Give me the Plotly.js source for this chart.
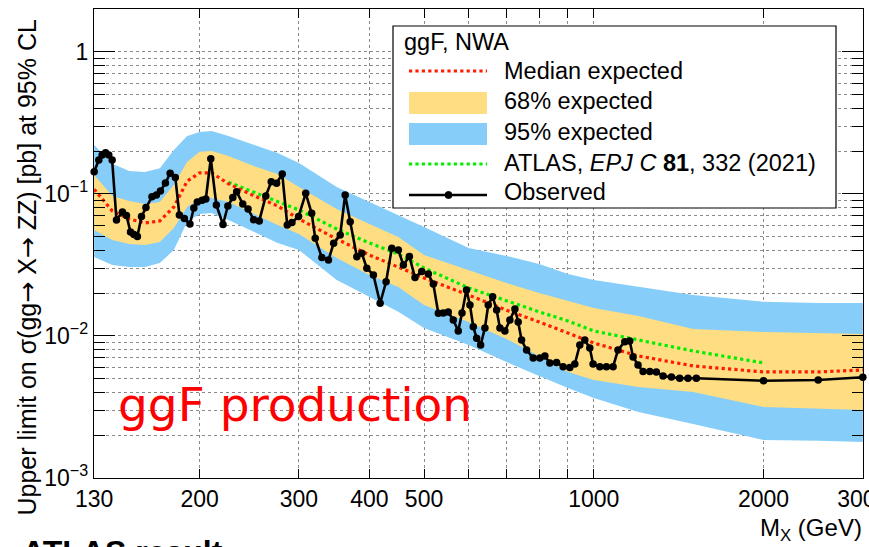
<!DOCTYPE html>
<html>
<head>
<meta charset="utf-8">
<script src="https://cdn.plot.ly/plotly-3.0.1.min.js"></script>
<style>
html,body{margin:0;padding:0;background:#fff;overflow:hidden;}
#chart{width:869px;height:547px;}
</style>
</head>
<body>
<div id="chart"></div>
<script>
// ---------------- data ----------------
const bandMass = [130,140,150,160,170,180,190,200,210,225,250,275,300,350,400,450,500,600,700,800,900,1000,1200,1500,2000,2500,3000];
const expMedian = [0.108,0.0759,0.0667,0.0625,0.0646,0.0810,0.123,0.141,0.141,0.118,0.0968,0.0823,0.0667,0.0482,0.0372,0.0306,0.0256,0.0194,0.0152,0.01255,0.0105,0.00893,0.00723,0.00615,0.00558,0.00558,0.00576];
const exp68Up = [0.136,0.0968,0.0893,0.0850,0.0878,0.116,0.168,0.198,0.201,0.185,0.157,0.138,0.112,0.0784,0.0615,0.0498,0.0372,0.0292,0.0236,0.0201,0.0176,0.01575,0.01383,0.0112,0.01067,0.0105,0.01033];
const exp68Dn = [0.0558,0.0474,0.0445,0.0437,0.0459,0.0576,0.0810,0.0922,0.0937,0.0878,0.0723,0.0605,0.0523,0.0354,0.0269,0.0221,0.0165,0.01255,0.00952,0.00723,0.00558,0.0049,0.00437,0.00403,0.00316,0.00306,0.00301];
const exp95Up = [0.221,0.163,0.145,0.143,0.152,0.204,0.256,0.273,0.278,0.256,0.221,0.194,0.165,0.112,0.0878,0.0711,0.0586,0.0417,0.0366,0.0321,0.0273,0.0248,0.0221,0.0194,0.0174,0.0171,0.0171];
const exp95Dn = [0.0360,0.0316,0.0306,0.0306,0.0327,0.0403,0.0635,0.0723,0.0735,0.0656,0.0540,0.0452,0.0403,0.0248,0.0188,0.0148,0.0114,0.00864,0.00656,0.00523,0.0043,0.00366,0.00292,0.0024,0.00185,0.00183,0.00179];

const prevMass = [225,250,275,300,350,400,450,500,600,700,800,900,1000,1200,1500,2000];
const prevLimit = [0.121,0.103,0.0893,0.0772,0.0567,0.0452,0.0378,0.0301,0.0218,0.0176,0.0148,0.01275,0.01084,0.00937,0.00784,0.00646];

const obsMass = [130,132.5,134.3,136.2,138,139.9,142.4,145.9,148.3,150.8,
152.9,155.1,157.7,160.6,164.6,167.6,170.4,173.9,177.3,181.1,
184.1,187.9,192.2,195.3,198.1,202,205.1,209.3,214.1,220,
224.4,229,232.6,238.5,243.7,249.3,255.1,262,267.9,273.8,
280.2,286,291.5,299.5,308.4,316,320.6,329.4,338.4,345.7,
355,362.3,369.8,380,387.8,395.8,406.6,417.9,428.2,438.3,
450.2,459.5,470.9,481.9,495.3,508.8,519.3,530,540.9,552,
563.4,575,583.8,594.6,603.1,611.3,619.8,630,641.1,649.8,
661.6,672.5,681.6,695.6,709.9,724.6,734.4,744.6,760,780.7,
802.3,818.9,835.7,858.9,882.3,906.7,925.4,944.5,963.9,983.8,
997.1,1025,1053,1082,1104,1135,1158,1174,1198,1223,
1257,1291,1327,1373,1420,1469,1520,2000,2500,3000];
const obsLimit = [0.1436,0.1736,0.1882,0.1954,0.188,0.1736,0.0656,0.0747,0.0706,0.054,
0.0519,0.0502,0.0694,0.0803,0.0957,0.0984,0.105,0.1195,0.140,0.1307,
0.0711,0.0672,0.0615,0.0797,0.0878,0.0903,0.0922,0.177,0.0837,0.061,
0.0823,0.0945,0.1038,0.085,0.0784,0.0659,0.0646,0.0968,0.122,0.119,
0.1383,0.0605,0.063,0.0694,0.1011,0.0731,0.0488,0.0357,0.0343,0.045,
0.0514,0.0984,0.0638,0.0362,0.0382,0.030,0.0269,0.017,0.0241,0.0415,
0.0403,0.0316,0.0363,0.0258,0.0284,0.0273,0.0232,0.01445,0.01452,0.01476,
0.01296,0.01084,0.01452,0.0211,0.01653,0.01163,0.00963,0.00864,0.01139,0.01653,
0.0189,0.01524,0.01139,0.01084,0.01296,0.01549,0.01255,0.00937,0.00797,0.0070,
0.0070,0.00723,0.00646,0.00651,0.00608,0.0060,0.00635,0.00864,0.00937,0.00823,
0.00635,0.00608,0.00608,0.00608,0.00797,0.00912,0.00922,0.00711,0.00625,0.00561,
0.00561,0.00558,0.00523,0.00514,0.00504,0.00504,0.00504,0.00484,0.0049,0.00512];

const xTickVals = [130,200,300,400,500,1000,2000,3000];
const xTickText = ['130','200','300','400','500','1000','2000','3000'];
const xMinorVals = [600,700,800,900];
const yTickVals = [0.001,0.01,0.1,1];
const yTickText = ['10<sup>\u22123</sup>','10<sup>\u22122</sup>','10<sup>\u22121</sup>','1'];
const yMinorVals = [0.002,0.003,0.004,0.005,0.006,0.007,0.008,0.009,0.02,0.03,0.04,0.05,0.06,0.07,0.08,0.09,0.2,0.3,0.4,0.5,0.6,0.7,0.8,0.9,2];

const legendTitle = 'ggF, NWA';
const legendLabels = ['Median expected','68% expected','95% expected','ATLAS, <i>EPJ C</i> <b>81</b>, 332 (2021)','Observed'];

// ---------------- styles ----------------
const BLUE = '#86CEF9';
const YELLOW = '#FEDD83';
const FONT = 'Liberation Sans, Arial, Helvetica, sans-serif';
const ARROW = '<span style="font-family:DejaVu Sans">\u2192</span>';

// layout geometry (pixels of the 869x547 page)
const W = 869, H = 547;
const M = {l:94, r:6, t:9, b:69};
const PW = W - M.l - M.r, PH = H - M.t - M.b;
const px = v => (v - M.l) / PW;   // page x -> paper x
const py = v => (H - M.b - v) / PH; // page y -> paper y

function band(up, dn, color, name){
  return {
    x: bandMass.concat(bandMass.slice().reverse()),
    y: up.concat(dn.slice().reverse()),
    type: 'scatter', mode: 'lines', fill: 'toself',
    fillcolor: color, line: {width: 0, color: color},
    hoverinfo: 'skip', showlegend: false, name: name
  };
}

const traces = [
  band(exp95Up, exp95Dn, BLUE, '95% expected'),
  band(exp68Up, exp68Dn, YELLOW, '68% expected'),
  {x: prevMass, y: prevLimit, type: 'scatter', mode: 'lines', name: 'ATLAS 2021',
   line: {color: '#00EE00', width: 3.2, dash: 'dot'}, showlegend: false},
  {x: bandMass, y: expMedian, type: 'scatter', mode: 'lines', name: 'Median expected',
   line: {color: '#FF1A00', width: 3.2, dash: 'dot'}, showlegend: false},
  {x: obsMass, y: obsLimit, type: 'scatter', mode: 'lines+markers', name: 'Observed',
   line: {color: '#000', width: 2.6}, marker: {color: '#000', size: 7.5, symbol: 'circle'},
   cliponaxis: false, showlegend: false}
];

const gridCol = '#8a8a8a';
const shapes = [
  {type:'rect', xref:'paper', yref:'paper', x0:px(393), x1:px(836), y0:py(26), y1:py(208),
   fillcolor:'#fff', line:{color:'#000', width:1.2}, layer:'above'},
  {type:'line', xref:'paper', yref:'paper', x0:px(409), x1:px(487), y0:py(71), y1:py(71),
   line:{color:'#FF1A00', width:3.2, dash:'dot'}, layer:'above'},
  {type:'rect', xref:'paper', yref:'paper', x0:px(409), x1:px(487), y0:py(92), y1:py(114),
   fillcolor:YELLOW, line:{width:0}, layer:'above'},
  {type:'rect', xref:'paper', yref:'paper', x0:px(409), x1:px(487), y0:py(123), y1:py(145),
   fillcolor:BLUE, line:{width:0}, layer:'above'},
  {type:'line', xref:'paper', yref:'paper', x0:px(409), x1:px(487), y0:py(164), y1:py(164),
   line:{color:'#00EE00', width:3.2, dash:'dot'}, layer:'above'},
  {type:'line', xref:'paper', yref:'paper', x0:px(409), x1:px(487), y0:py(195), y1:py(195),
   line:{color:'#000', width:2.6}, layer:'above'},
  {type:'circle', xref:'paper', yref:'paper', x0:px(445), x1:px(452), y0:py(191.5), y1:py(198.5),
   fillcolor:'#000', line:{color:'#000', width:1}, layer:'above'}
];

const legY = [71,101,132,163,192];
const annotations = [
  {text: legendTitle, xref:'paper', yref:'paper', x:px(402), y:py(42), xanchor:'left', yanchor:'middle',
   showarrow:false, font:{family:FONT, size:23.5, color:'#000'}}
].concat(legendLabels.map((t,i)=>({
   text: t, xref:'paper', yref:'paper', x:px(502), y:py(legY[i]), xanchor:'left', yanchor:'middle',
   showarrow:false, font:{family:FONT, size:23.5, color:'#000'}})));

annotations.push(
  {text:'ggF production', xref:'paper', yref:'paper', x:px(116), y:py(404), xanchor:'left', yanchor:'middle',
   showarrow:false, font:{family:'DejaVu Sans, sans-serif', size:47, color:'#FF0000'}},
  {text:'Upper limit on \u03C3(gg' + ARROW + ' X' + ARROW + ' ZZ) [pb] at 95% CL', xref:'paper', yref:'paper',
   x:px(27), y:py(518), xanchor:'center', yanchor:'bottom', textangle:-90,
   showarrow:false, font:{family:FONT, size:25, color:'#000'}},
  {text:'M<sub>X</sub> (GeV)', xref:'paper', yref:'paper', x:px(864), y:py(529), xanchor:'right', yanchor:'middle',
   showarrow:false, font:{family:FONT, size:24, color:'#000'}},
  {text:'<b>ATLAS result:</b>', xref:'paper', yref:'paper', x:px(20), y:py(552), xanchor:'left', yanchor:'middle',
   showarrow:false, font:{family:FONT, size:32, color:'#000'}}
);

const layout = {
  width: W, height: H, margin: M,
  paper_bgcolor: '#fff', plot_bgcolor: '#fff',
  showlegend: false,
  font: {family: FONT, color: '#000'},
  xaxis: {
    type:'log', range:[Math.log10(130) - 0.0003, Math.log10(3000) + 0.0003],
    tickmode:'array', tickvals:xTickVals, ticktext:xTickText,
    ticks:'inside', ticklen:9, tickwidth:1, tickcolor:'#000',
    ticklabeloverflow:'allow',
    showline:true, linecolor:'#000', linewidth:1.2, mirror:'ticks',
    showgrid:true, gridcolor:gridCol, griddash:'dot', gridwidth:1,
    zeroline:false, tickfont:{family:FONT, size:23, color:'#000'},
    minor:{tickmode:'array', tickvals:xMinorVals, ticks:'inside', ticklen:9, tickcolor:'#000',
           showgrid:true, gridcolor:gridCol, griddash:'dot', gridwidth:1}
  },
  yaxis: {
    type:'log', range:[-3.0003, 0.3028],
    tickmode:'array', tickvals:yTickVals, ticktext:yTickText,
    ticks:'inside', ticklen:21, tickwidth:1, tickcolor:'#000',
    ticklabeloverflow:'allow',
    showline:true, linecolor:'#000', linewidth:1.2, mirror:'ticks',
    showgrid:true, gridcolor:gridCol, griddash:'dot', gridwidth:1,
    zeroline:false, tickfont:{family:FONT, size:23, color:'#000'},
    minor:{tickmode:'array', tickvals:yMinorVals, ticks:'inside', ticklen:11, tickcolor:'#000',
           showgrid:true, gridcolor:gridCol, griddash:'dot', gridwidth:1}
  },
  shapes: shapes,
  annotations: annotations
};

Plotly.newPlot('chart', traces, layout, {displayModeBar:false, staticPlot:true});
</script>
</body>
</html>
